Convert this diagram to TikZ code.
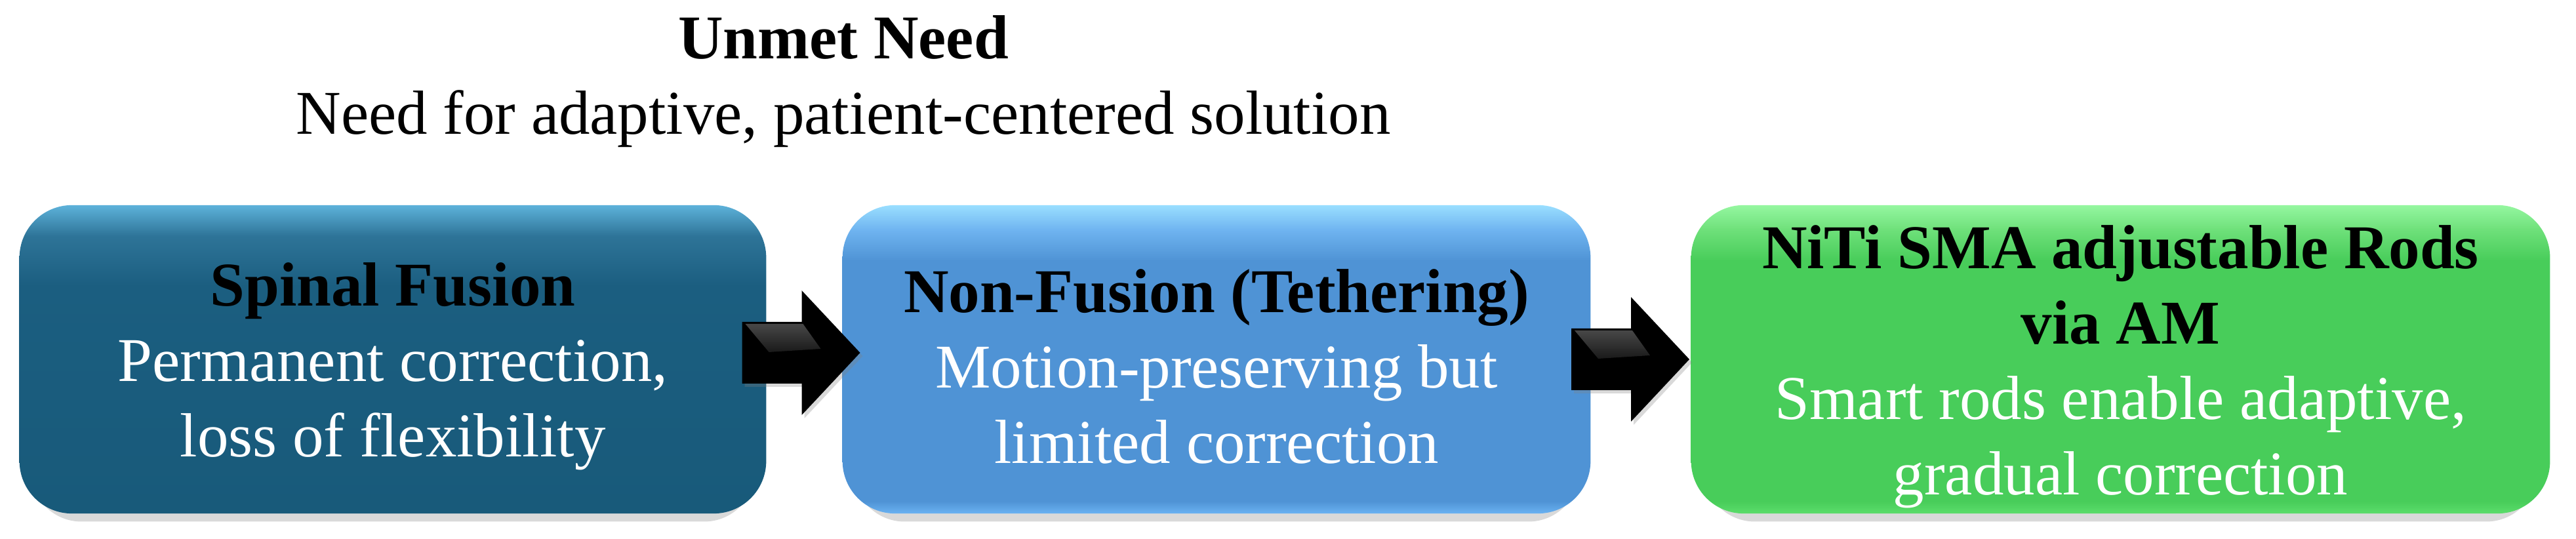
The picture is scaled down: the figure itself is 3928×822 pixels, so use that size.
\documentclass[tikz,border=0pt]{standalone}
\usepackage{fontspec}
\setmainfont{Liberation Serif}
\usepackage{tikz}
\usetikzlibrary{calc,shadows}

\definecolor{fusionlight}{HTML}{5DB2DA}
\definecolor{fusionmid}{HTML}{2E7498}
\definecolor{fusionbase}{HTML}{1B5E80}
\definecolor{fusiondeep}{HTML}{185A7A}
\definecolor{tetherlight}{HTML}{9ADFFF}
\definecolor{tethermid}{HTML}{6FB4F0}
\definecolor{tetherbase}{HTML}{4F93D5}
\definecolor{tetherrim}{HTML}{6AB2F2}
\definecolor{smartlight}{HTML}{95F7A0}
\definecolor{smartmid}{HTML}{6EE07A}
\definecolor{smartbase}{HTML}{48CD5A}
\definecolor{smartrim}{HTML}{5BDD6B}

\pgfdeclareverticalshading{fusionshade}{100bp}{color(0bp)=(fusiondeep); color(25bp)=(fusiondeep); color(62bp)=(fusionbase); color(70bp)=(fusionmid); color(75bp)=(fusionlight); color(100bp)=(fusionlight)}
\pgfdeclareverticalshading{tethershade}{100bp}{color(0bp)=(tetherrim); color(25bp)=(tetherrim); color(27bp)=(tetherbase); color(66bp)=(tetherbase); color(71bp)=(tethermid); color(75bp)=(tetherlight); color(100bp)=(tetherlight)}
\pgfdeclareverticalshading{smartshade}{100bp}{color(0bp)=(smartrim); color(25bp)=(smartrim); color(27bp)=(smartbase); color(66bp)=(smartbase); color(71bp)=(smartmid); color(75bp)=(smartlight); color(100bp)=(smartlight)}

\newcommand{\bigfont}{\fontsize{27pt}{32.7pt}\selectfont}
\newcommand{\stagehead}[1]{\textcolor{black}{\bfseries\rule{0pt}{0.93em}#1}}

\tikzset{
  stage/.style={rectangle, rounded corners=0.8cm, inner sep=0pt, minimum height=4.70cm,
    align=center, text=white, font=\bigfont, shade,
    drop shadow={shadow xshift=0pt, shadow yshift=-0.2cm, shadow scale=0.97, opacity=0.3}},
}

\begin{document}
\begin{tikzpicture}[x=0.01cm,y=0.01cm]
  \useasboundingbox (0,0) rectangle (3928,822);
  \node[font=\bigfont\bfseries, anchor=base] (need) at (1286,732) {Unmet Need};
  \node[font=\bigfont, anchor=base] (needtext) at (1286,617) {Need for adaptive, patient-centered solution};

  \node[stage, shading=fusionshade, minimum width=11.38cm] (fusion) at (599,274)
    {\stagehead{Spinal Fusion}\\Permanent correction,\\loss of flexibility};
  \node[stage, shading=tethershade, minimum width=11.40cm] (tether) at (1855,274)
    {\stagehead{Non-Fusion (Tethering)}\\Motion-preserving but\\limited correction};
  \node[stage, shading=smartshade, minimum width=13.09cm] (smart) at (3233.5,274)
    {\stagehead{NiTi SMA adjustable Rods}\\\stagehead{via AM}\\Smart rods enable adaptive,\\gradual correction};

  \foreach \from/\to/\dx/\dy in {fusion/tether/-95/10, tether/smart/-106/0}{
    \coordinate (tail) at ($(\from.east)!0.5!(\to.west)+(\dx,\dy)$);
    \fill[black, drop shadow={shadow xshift=0.04cm, shadow yshift=-0.05cm, opacity=0.3}]
      (tail) ++(0,47) -- ++(91,0) -- ++(0,48) -- ++(89,-95) -- ++(-89,-95) -- ++(0,48) -- ++(-91,0) -- cycle;
    \shade[top color=black!72, bottom color=black!90]
      ($(tail)+(5,44)$) -- ($(tail)+(93,44)$) -- ($(tail)+(120,6)$) -- ($(tail)+(41,1)$) -- cycle;
  }
\end{tikzpicture}
\end{document}
